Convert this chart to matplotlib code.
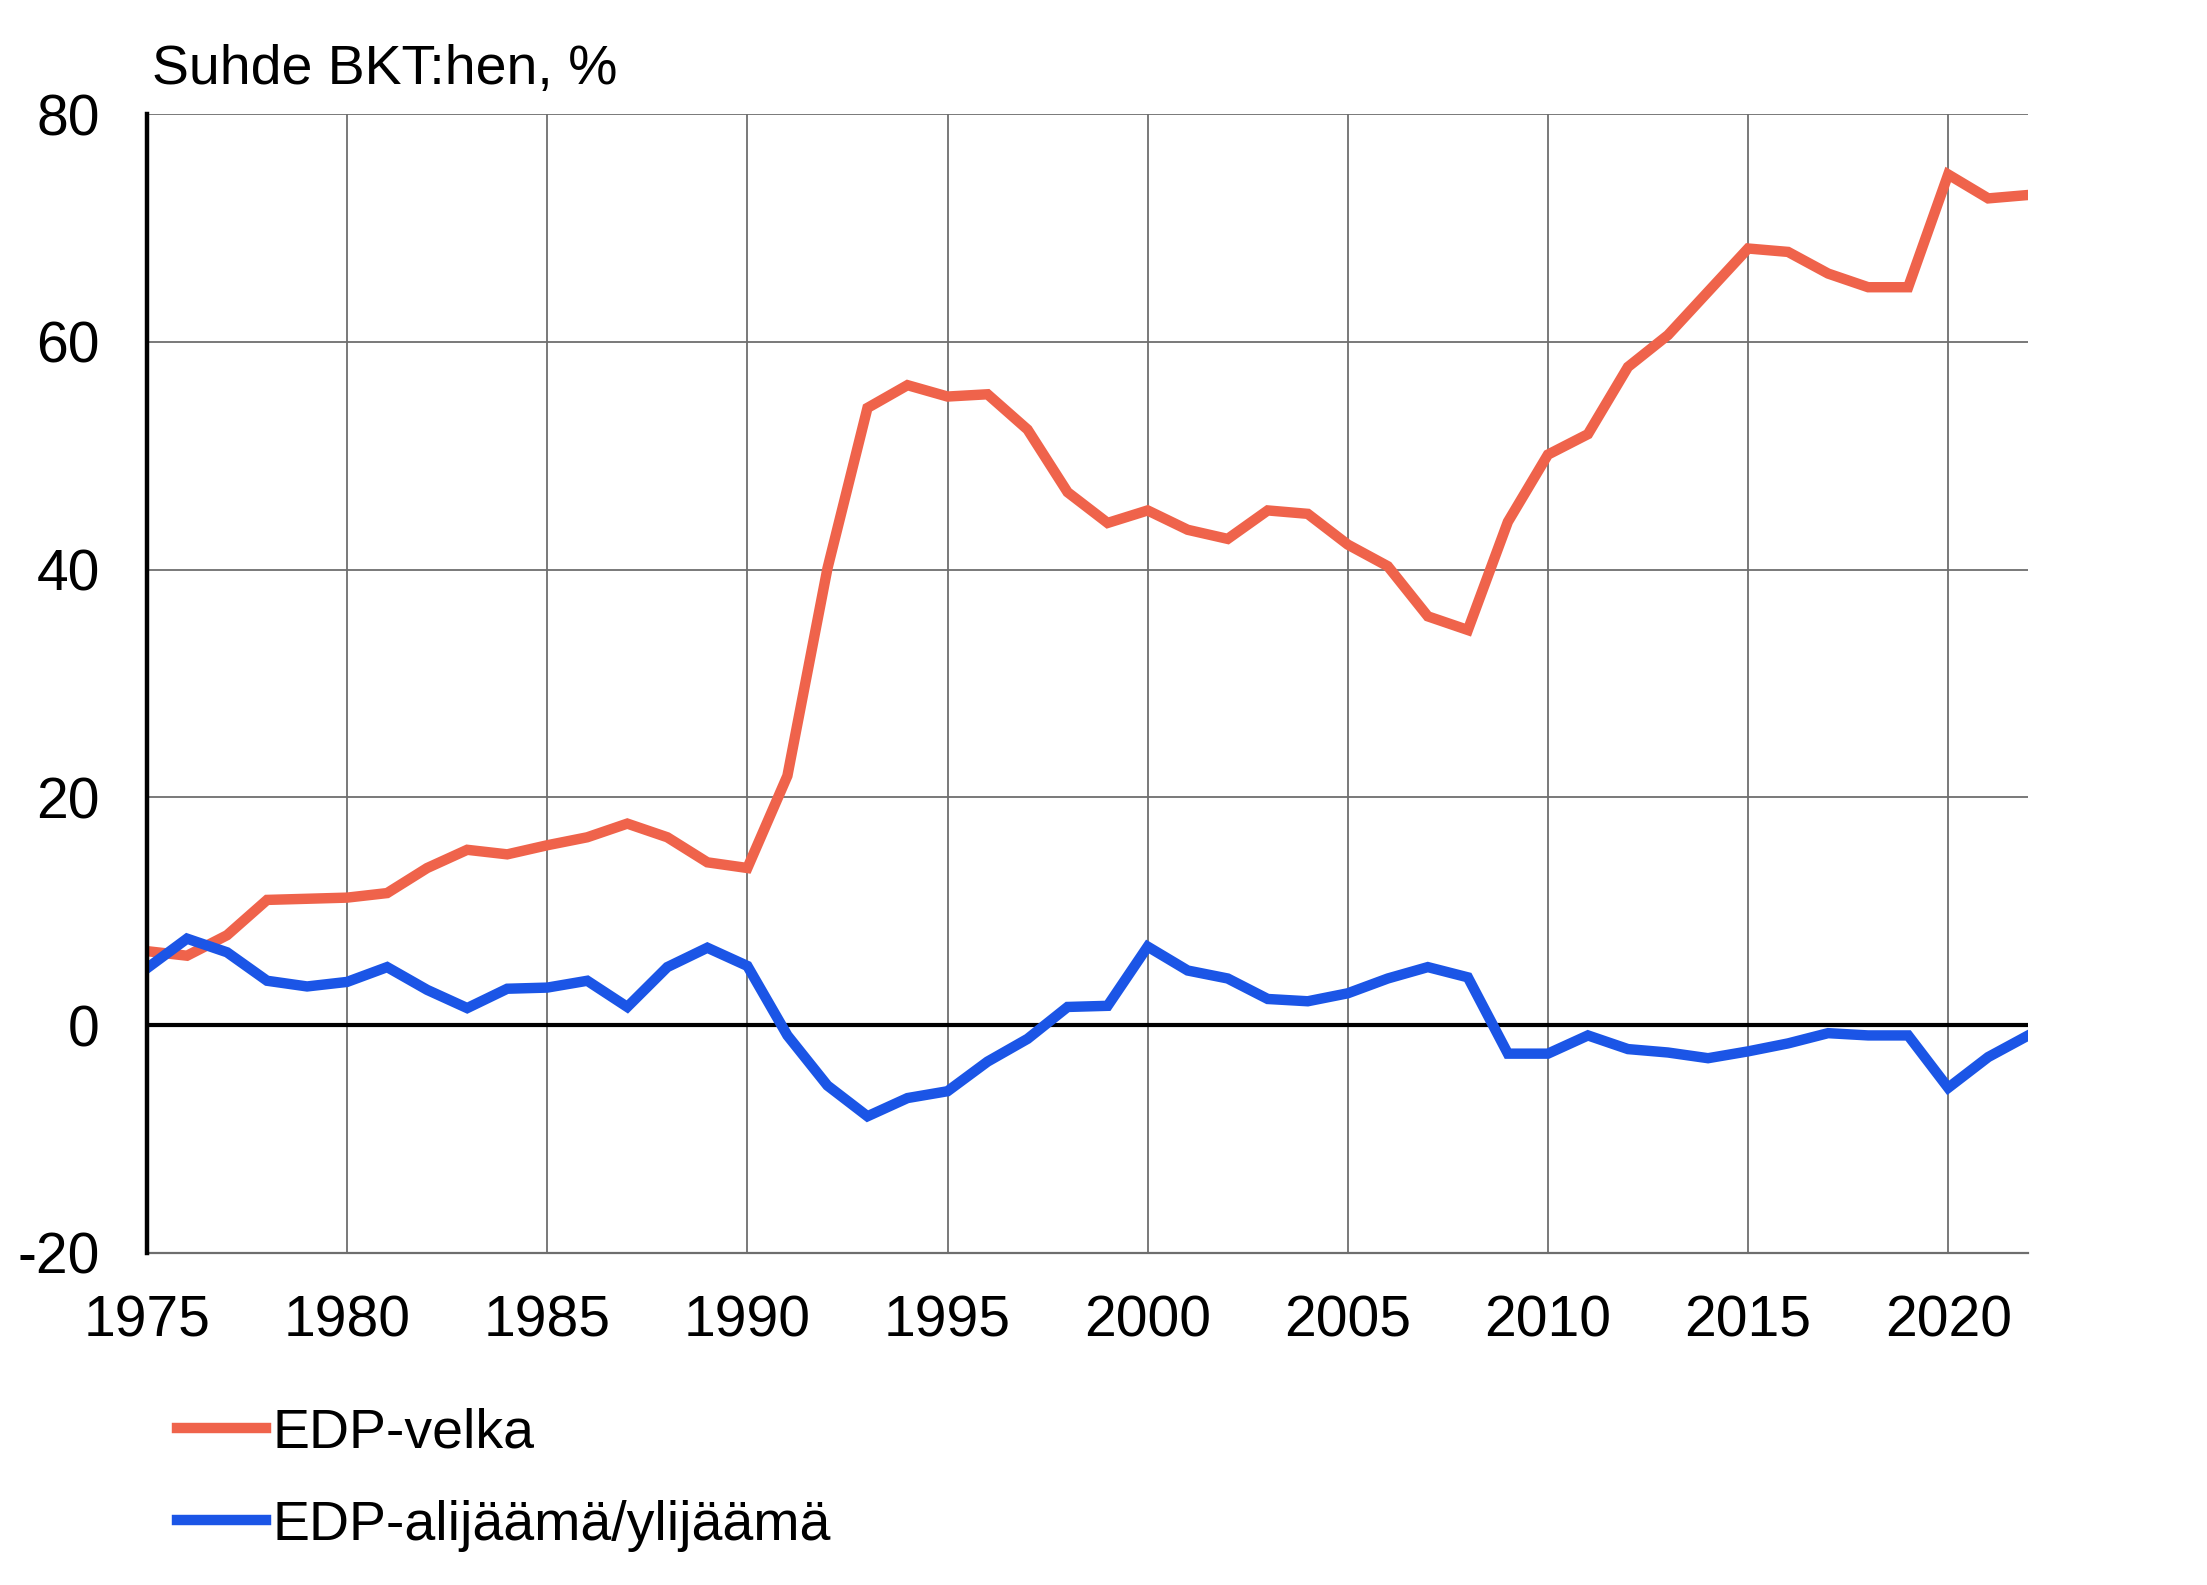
import numpy as np
import matplotlib
matplotlib.use("Agg")
import matplotlib.pyplot as plt

plt.rcParams['font.family'] = ['Liberation Sans', 'DejaVu Sans']

# Data (% of GDP)
years = list(range(1975, 2023))
velka = [6.5, 6.1, 7.9, 11.0, 11.1, 11.2, 11.6, 13.8, 15.4, 15.0,
         15.8, 16.5, 17.7, 16.5, 14.3, 13.8, 21.9, 40.1, 54.2, 56.2,
         55.2, 55.4, 52.3, 46.8, 44.1, 45.2, 43.5, 42.7, 45.2, 44.9,
         42.2, 40.3, 35.9, 34.7, 44.2, 50.1, 51.9, 57.8, 60.6, 64.4,
         68.2, 67.9, 66.0, 64.8, 64.8, 74.7, 72.6, 72.9]
alijaama = [5.0, 7.6, 6.4, 3.9, 3.4, 3.8, 5.1, 3.1, 1.5, 3.2,
            3.3, 3.9, 1.6, 5.1, 6.8, 5.2, -0.9, -5.3, -8.0, -6.4,
            -5.8, -3.2, -1.2, 1.6, 1.7, 6.9, 4.8, 4.1, 2.3, 2.1,
            2.8, 4.1, 5.1, 4.2, -2.5, -2.5, -0.9, -2.1, -2.4, -2.9,
            -2.3, -1.6, -0.7, -0.9, -0.9, -5.5, -2.8, -0.9]
yticks = [80, 60, 40, 20, 0, -20]
xticks = [1975, 1980, 1985, 1990, 1995, 2000, 2005, 2010, 2015, 2020]

fig = plt.figure(figsize=(22.07, 15.85), dpi=100)
ax = fig.add_axes([0.0666, 0.2095, 0.8524, 0.7185])

red = '#EF634B'
blue = '#1B55E6'

l1, = ax.plot(years, velka, color=red, lw=7.5, solid_joinstyle='miter', zorder=4)
l2, = ax.plot(years, alijaama, color=blue, lw=7.5, solid_joinstyle='miter', zorder=4)
ax.axhline(0, color='black', lw=3, zorder=3)

ax.set_xlim(1975, 2022)
ax.set_ylim(-20, 80)
ax.set_xticks(xticks)
ax.set_yticks(yticks)
ax.set_yticklabels(['80', '60', '40', '20', '0', '-20'])
ax.grid(True, color='#6e6e6e', lw=1.3, zorder=1)
ax.tick_params(axis='both', length=0, labelsize=41)
ax.tick_params(axis='y', pad=34)
ax.tick_params(axis='x', pad=30)

for s in ['top', 'right']:
    ax.spines[s].set_visible(False)
ax.spines['bottom'].set_color('#6e6e6e')
ax.spines['bottom'].set_linewidth(1.6)
ax.spines['left'].set_color('black')
ax.spines['left'].set_linewidth(3.2)
ax.spines['left'].set_zorder(5)

fig.text(0.069, 0.947, 'Suhde BKT:hen, %', fontsize=40, ha='left', va='baseline')

fig.legend([l1, l2], ['EDP-velka', 'EDP-alijäämä/ylijäämä'],
           loc='upper left', bbox_to_anchor=(0.070, 0.126), frameon=False,
           fontsize=40, handlelength=1.6, handletextpad=0.12,
           labelspacing=0.72, borderaxespad=0)

fig.savefig('out.png', dpi=100)
